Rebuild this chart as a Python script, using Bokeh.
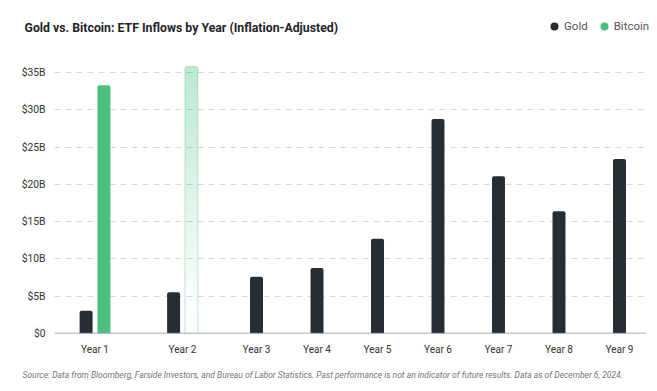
from bokeh.plotting import figure
from bokeh.models import (FactorRange, ColumnDataSource, Span, Legend, LegendItem,
                          Title, FixedTicker, Range1d, Label)
from bokeh.layouts import column
from bokeh.transform import dodge
from bokeh.embed import file_html
from bokeh.resources import INLINE

# ---- data ----
years = ["Year 1", "Year 2", "Year 3", "Year 4", "Year 5",
         "Year 6", "Year 7", "Year 8", "Year 9"]
gold = [3.05, 5.55, 7.6, 8.8, 12.7, 28.8, 21.1, 16.4, 23.4]
bitcoin_years = ["Year 1", "Year 2"]
bitcoin = [33.3, 35.8]
y_ticks = [0, 5, 10, 15, 20, 25, 30, 35]
y_tick_labels = ["$0", "$5B", "$10B", "$15B", "$20B", "$25B", "$30B", "$35B"]
series_names = ["Gold", "Bitcoin"]
title_text = "Gold vs. Bitcoin: ETF Inflows by Year (Inflation-Adjusted)"
source_text = ("Source: Data from Bloomberg, Farside Investors, and Bureau of Labor Statistics. "
               "Past performance is not an indicator of future results. Data as of December 6, 2024.")

GOLD_C = "#262d35"
BTC_C = "#4cbf80"
FONT = "Roboto"
W = 649
HEAD_H = 40

# ---------------- header (title + legend) ----------------
h = figure(width=W, height=HEAD_H, x_range=Range1d(0, 1), y_range=Range1d(0, 1),
           output_backend="svg", toolbar_location=None,
           x_axis_location=None, y_axis_location=None,
           min_border_left=0, min_border_right=0, min_border_top=0, min_border_bottom=0)
h.frame_align = False
h.grid.visible = False
h.outline_line_color = None
h.add_layout(Label(x=24, y=HEAD_H - 27, x_units="screen", y_units="screen",
                   text=title_text, text_baseline="middle", text_font=FONT,
                   text_font_size="12.3px", text_font_style="bold", text_color="#1f2328"))
# off-screen dummy glyphs, used only for the legend swatches
r_g = h.scatter(x=[-10], y=[-10], marker="circle", size=8, fill_color=GOLD_C, line_color=None)
r_b = h.scatter(x=[-10], y=[-10], marker="circle", size=8, fill_color=BTC_C, line_color=None)
legend = Legend(items=[LegendItem(label=series_names[0], renderers=[r_g]),
                       LegendItem(label=series_names[1], renderers=[r_b])],
                location=(544, HEAD_H - 36), orientation="horizontal",
                padding=0, margin=0, spacing=6, label_standoff=0,
                glyph_width=20, glyph_height=20, label_height=20,
                label_text_font=FONT, label_text_font_size="11.5px",
                label_text_color="#555555", label_text_baseline="middle",
                border_line_color=None, background_fill_alpha=0)
h.add_layout(legend)

# ---------------- main chart ----------------
factors = []
for y in years:
    if y in bitcoin_years:
        factors += [(y, "Gold"), (y, "Bitcoin")]
    else:
        factors.append((y, "Gold"))

x_range = FactorRange(factors=factors, group_padding=1.24, factor_padding=0,
                      range_padding=0.5, range_padding_units="absolute")

p = figure(width=W, height=389 - HEAD_H, x_range=x_range, y_range=Range1d(0, 36.5),
           output_backend="svg", toolbar_location=None,
           min_border_left=54, min_border_right=3, min_border_top=61 - HEAD_H,
           min_border_bottom=56)
p.frame_align = False
p.outline_line_color = None
p.background_fill_color = "white"

# gold bars
paired = [(y, g) for y, g in zip(years, gold) if y in bitcoin_years]
solo = [(y, g) for y, g in zip(years, gold) if y not in bitcoin_years]
src_gp = ColumnDataSource(dict(x=[(y, "Gold") for y, _ in paired], top=[g for _, g in paired]))
src_gs = ColumnDataSource(dict(x=[(y, "Gold") for y, _ in solo], top=[g for _, g in solo]))
BW = 0.48
RAD = (2, 2, 0, 0)
p.vbar(x=dodge("x", 0.17, range=x_range), top="top", width=BW, source=src_gp,
       fill_color=GOLD_C, line_color=None, border_radius=RAD)
p.vbar(x="x", top="top", width=BW, source=src_gs,
       fill_color=GOLD_C, line_color=None, border_radius=RAD)

# bitcoin: first solid, second faded (gradient)
src_b1 = ColumnDataSource(dict(x=[(bitcoin_years[0], "Bitcoin")], top=[bitcoin[0]]))
p.vbar(x=dodge("x", -0.17, range=x_range), top="top", width=BW, source=src_b1,
       fill_color=BTC_C, line_color=None, border_radius=RAD)

N = 24
v2 = bitcoin[1]
x2 = (bitcoin_years[1], "Bitcoin")
bots = [v2 * i / N for i in range(2, N)]
src_b2 = ColumnDataSource(dict(x=[x2] * len(bots), top=[v2] * len(bots), bottom=bots))
p.vbar(x=dodge("x", -0.17, range=x_range), top="top", bottom="bottom", width=BW, source=src_b2,
       fill_color=BTC_C, fill_alpha=0.014, line_color=None, border_radius=RAD)
src_b2o = ColumnDataSource(dict(x=[x2], top=[v2]))
p.vbar(x=dodge("x", -0.17, range=x_range), top="top", width=BW, source=src_b2o,
       fill_color=None, line_color=BTC_C, line_alpha=0.35, line_width=1, border_radius=RAD)

# baseline
p.add_layout(Span(location=0, dimension="width", line_color="#8f9397", line_width=1.5))

# axes
p.yaxis.ticker = FixedTicker(ticks=y_ticks)
p.yaxis.major_label_overrides = {t: l for t, l in zip(y_ticks, y_tick_labels)}
p.yaxis.axis_line_color = None
p.yaxis.major_tick_line_color = None
p.yaxis.minor_tick_line_color = None
p.yaxis.major_label_standoff = 3
p.yaxis.major_label_text_font = FONT
p.yaxis.major_label_text_font_size = "10.3px"
p.yaxis.major_label_text_color = "#333333"

p.xaxis.axis_line_color = None
p.xaxis.major_tick_line_color = None
p.xaxis.major_label_text_font_size = "0px"
p.xaxis.major_label_standoff = 4
p.xaxis.separator_line_color = None
p.xaxis.group_text_font = FONT
p.xaxis.group_text_font_size = "10px"
p.xaxis.group_text_font_style = "normal"
p.xaxis.group_text_color = "#333333"

p.xgrid.grid_line_color = None
p.ygrid.grid_line_color = "#d9d9d9"
p.ygrid.grid_line_dash = "6 5"

# footer
p.add_layout(Title(text=source_text, align="left", offset=-32, text_font=FONT,
                   text_font_size="8.5px", text_font_style="italic",
                   text_color="#757575", standoff=20), "below")

layout = column(h, p, spacing=0)
open("out.html", "w").write(file_html(layout, INLINE))
